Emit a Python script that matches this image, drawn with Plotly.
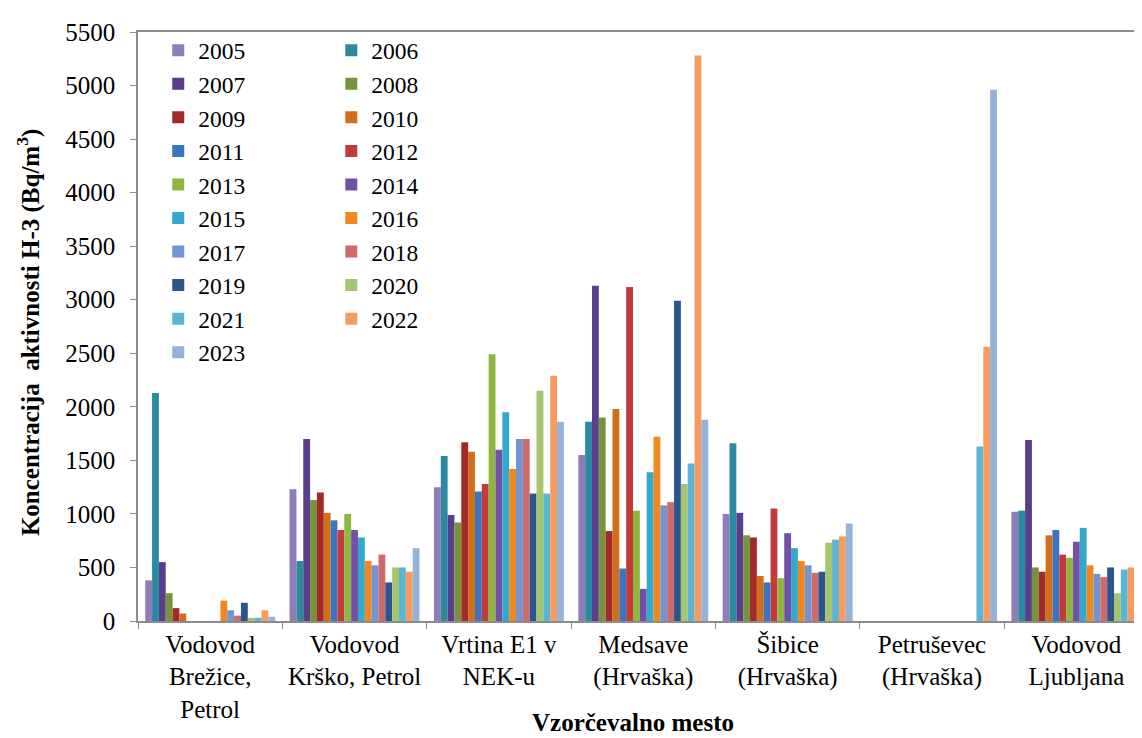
import plotly.graph_objects as go

years = list(range(2005, 2024))

sites = [
    "Vodovod<br>Brežice,<br>Petrol",
    "Vodovod<br>Krško, Petrol",
    "Vrtina E1 v<br>NEK-u",
    "Medsave<br>(Hrvaška)",
    "Šibice<br>(Hrvaška)",
    "Petruševec<br>(Hrvaška)",
    "Vodovod<br>Ljubljana",
]

# values per site, 2005 .. 2023 (None = no bar)
brezice = [380, 2130, 550, 260, 120, 70, None, None, None, None, None,
           190, 100, 50, 170, 30, 30, 100, 40]
krsko = [1230, 560, 1700, 1130, 1200, 1010, 940, 850, 1000, 850, 780,
         560, 520, 620, 360, 500, 500, 460, 680]
vrtina = [1250, 1540, 990, 920, 1670, 1580, 1210, 1280, 2490, 1600, 1950,
          1420, 1700, 1700, 1190, 2150, 1190, 2290, 1860]
medsave = [1550, 1860, 3130, 1900, 840, 1980, 490, 3120, 1030, 300, 1390,
           1720, 1080, 1110, 2990, 1280, 1470, 5280, 1880]
sibice = [1000, 1660, 1010, 800, 780, 420, 360, 1050, 400, 820, 680,
          560, 520, 450, 460, 730, 760, 790, 910]
petrusevec = [None] * 16 + [1630, 2560, 4960]
ljubljana = [1020, 1030, 1690, 500, 460, 800, 850, 620, 590, 740, 870,
             520, 440, 410, 500, 260, 480, 500, None]

site_values = [brezice, krsko, vrtina, medsave, sibice, petrusevec, ljubljana]

colors = [
    "#8F7DBB", "#2C8AA0", "#5A3E8C", "#77933C", "#A42A2A", "#D36F1B",
    "#3C74C0", "#C43A3A", "#8FB63F", "#7550A8", "#33A9CC", "#F2871F",
    "#7095D2", "#D06A6A", "#2B558F", "#A5C66E", "#5CB5D4", "#F89B5C",
    "#93B3DB",
]

font = "Times New Roman, Liberation Serif, serif"
tick_size = 25
legend_size = 23.5

fig = go.Figure()
for i, yr in enumerate(years):
    fig.add_trace(go.Bar(
        name=str(yr),
        x=sites,
        y=[vals[i] for vals in site_values],
        marker_color=colors[i],
        marker_line_width=0,
        legend="legend" if i % 2 == 0 else "legend2",
    ))

legend_style = dict(
    font=dict(family=font, size=legend_size, color="black"),
    bgcolor="rgba(0,0,0,0)",
    yanchor="top",
    y=1.006,
    tracegroupgap=0,
)

fig.update_layout(
    width=1142,
    height=738,
    margin=dict(l=130, r=0, t=24, b=125),
    paper_bgcolor="white",
    plot_bgcolor="white",
    barmode="group",
    bargap=0.1,
    bargroupgap=0,
    font=dict(family=font, size=tick_size, color="black"),
    legend=dict(x=0.020, xanchor="left", **legend_style),
    legend2=dict(x=0.191, xanchor="left", **legend_style),
    xaxis=dict(
        range=[-0.5, 6.51],
        showline=True,
        linecolor="#8C8C8C",
        linewidth=1.5,
        mirror=True,
        ticks="outside",
        tickson="boundaries",
        ticklen=6,
        tickcolor="#8C8C8C",
        tickfont=dict(family=font, size=tick_size),
    ),
    yaxis=dict(
        range=[0, 5500],
        dtick=500,
        showgrid=False,
        zeroline=False,
        showline=True,
        linecolor="#8C8C8C",
        linewidth=1.5,
        ticks="outside",
        ticklen=6,
        tickcolor="#8C8C8C",
        ticklabelstandoff=10,
        tickfont=dict(family=font, size=tick_size),
    ),
    annotations=[
        dict(text="<b>Vzorčevalno mesto</b>", xref="paper", yref="paper",
             x=0.489, y=-0.172, xanchor="center", yanchor="middle",
             showarrow=False, font=dict(family=font, size=25)),
        dict(text="<b>Koncentracija  aktivnosti H-3 (Bq/m<sup>3</sup>)</b>",
             xref="paper", yref="paper", x=-0.108, y=0.49,
             xanchor="center", yanchor="middle", textangle=-90,
             showarrow=False, font=dict(family=font, size=25)),
    ],
)

fig.write_html("out.html")
